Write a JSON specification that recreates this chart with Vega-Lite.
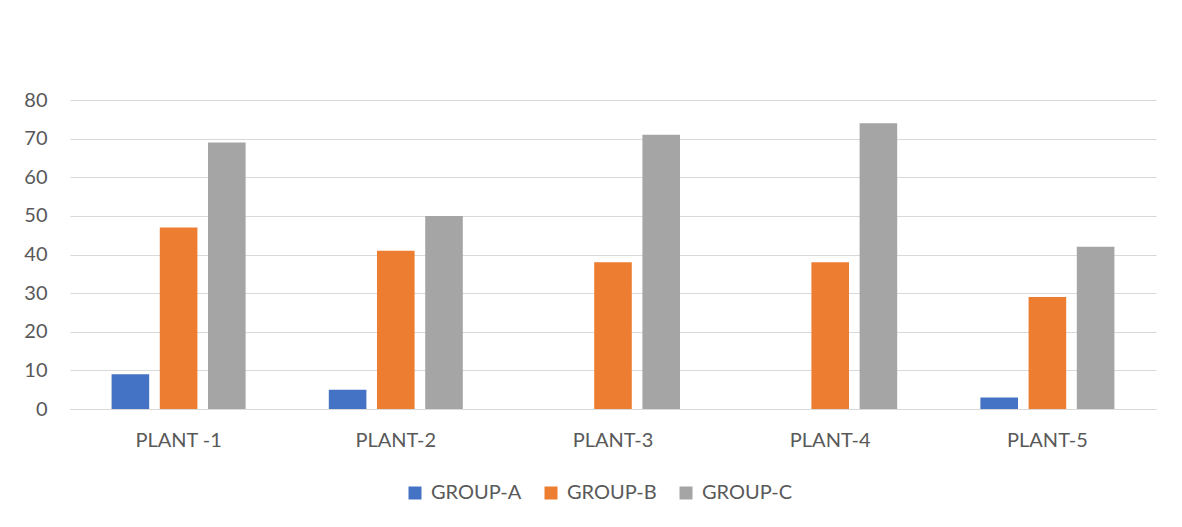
{
  "$schema": "https://vega.github.io/schema/vega-lite/v6.json",
  "autosize": {"type": "none"},
  "width": 1086,
  "height": 309,
  "padding": {"left": 70, "top": 100, "right": 26, "bottom": 118},
  "background": "white",
  "data": {
    "values": [
      {"plant": "PLANT -1", "group": "GROUP-A", "value": 9},
      {"plant": "PLANT -1", "group": "GROUP-B", "value": 47},
      {"plant": "PLANT -1", "group": "GROUP-C", "value": 69},
      {"plant": "PLANT-2", "group": "GROUP-A", "value": 5},
      {"plant": "PLANT-2", "group": "GROUP-B", "value": 41},
      {"plant": "PLANT-2", "group": "GROUP-C", "value": 50},
      {"plant": "PLANT-3", "group": "GROUP-A", "value": 0},
      {"plant": "PLANT-3", "group": "GROUP-B", "value": 38},
      {"plant": "PLANT-3", "group": "GROUP-C", "value": 71},
      {"plant": "PLANT-4", "group": "GROUP-A", "value": 0},
      {"plant": "PLANT-4", "group": "GROUP-B", "value": 38},
      {"plant": "PLANT-4", "group": "GROUP-C", "value": 74},
      {"plant": "PLANT-5", "group": "GROUP-A", "value": 3},
      {"plant": "PLANT-5", "group": "GROUP-B", "value": 29},
      {"plant": "PLANT-5", "group": "GROUP-C", "value": 42}
    ]
  },
  "mark": {"type": "bar"},
  "encoding": {
    "x": {
      "field": "plant",
      "type": "nominal",
      "sort": null,
      "scale": {"paddingInner": 0.383, "paddingOuter": 0.1915},
      "axis": {
        "title": null,
        "labelAngle": 0,
        "ticks": false,
        "domain": true,
        "domainColor": "#d9d9d9",
        "domainWidth": 1,
        "labelPadding": 21,
        "labelFont": "Lato",
        "labelFontSize": 20,
        "labelColor": "#595959",
        "grid": false
      }
    },
    "xOffset": {
      "field": "group",
      "type": "nominal",
      "scale": {"paddingInner": 0.22, "paddingOuter": 0}
    },
    "y": {
      "field": "value",
      "type": "quantitative",
      "scale": {"domain": [0, 80], "nice": false},
      "axis": {
        "title": null,
        "values": [0, 10, 20, 30, 40, 50, 60, 70, 80],
        "domain": false,
        "ticks": false,
        "grid": true,
        "gridColor": "#d9d9d9",
        "gridWidth": 1,
        "labelPadding": 23,
        "labelFont": "Lato",
        "labelFontSize": 20,
        "labelColor": "#595959"
      }
    },
    "color": {
      "field": "group",
      "type": "nominal",
      "scale": {
        "domain": ["GROUP-A", "GROUP-B", "GROUP-C"],
        "range": ["#4472C4", "#ED7D31", "#A5A5A5"]
      },
      "legend": {
        "title": null,
        "orient": "none",
        "direction": "horizontal",
        "legendX": 335,
        "legendY": 383,
        "symbolType": "square",
        "symbolSize": 169,
        "symbolStrokeWidth": 0,
        "labelFont": "Lato",
        "labelFontSize": 20,
        "labelColor": "#595959",
        "labelOffset": 6,
        "columnPadding": 19
      }
    }
  },
  "config": {
    "view": {"stroke": null},
    "font": "Lato"
  }
}
